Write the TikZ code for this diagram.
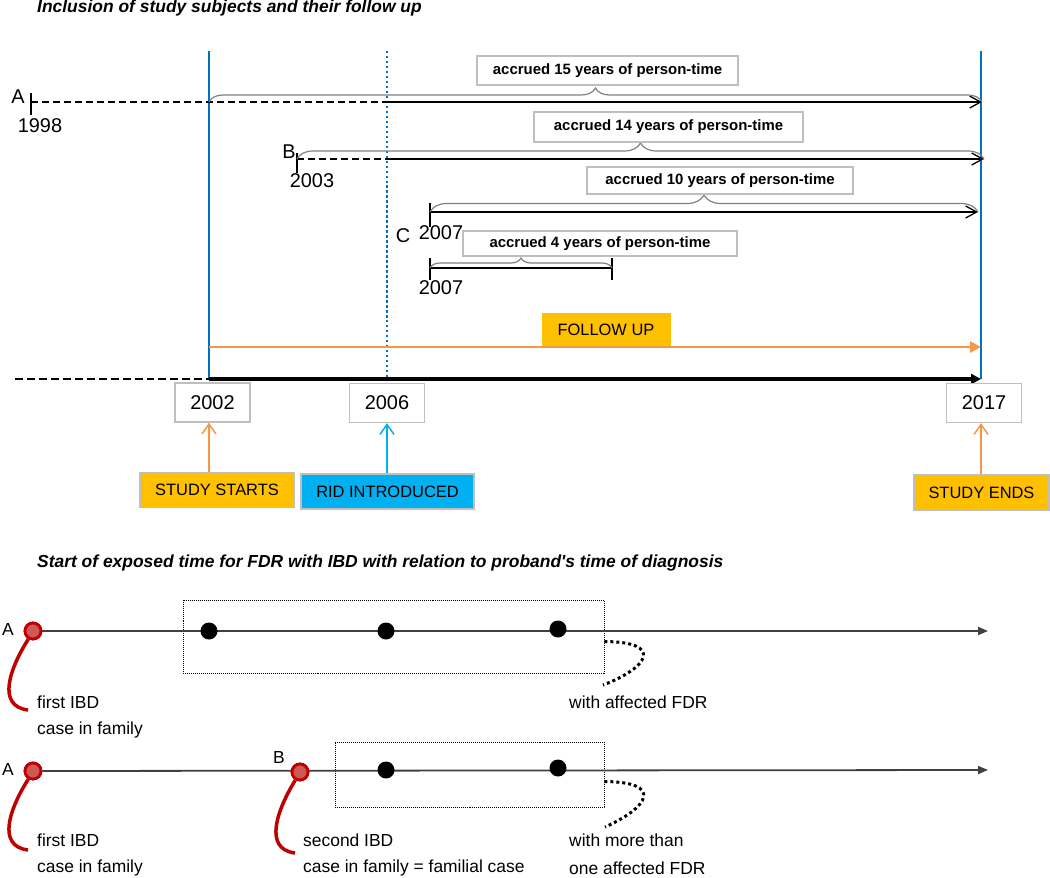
\documentclass[tikz,border=0pt]{standalone}
\usepackage{fontspec}
\setmainfont{Liberation Sans}[Ligatures=TeXOff]
\usepackage{tikz}
\usetikzlibrary{calc}
\usetikzlibrary{arrows.meta}
\usetikzlibrary{decorations.pathreplacing}
\usetikzlibrary{positioning}

\definecolor{studyblue}{HTML}{0070C0}
\definecolor{ridblue}{HTML}{00B0F0}
\definecolor{boxorange}{HTML}{FFC000}
\definecolor{arrorange}{HTML}{F79646}
\definecolor{boxgray}{HTML}{BFBFBF}
\definecolor{bracegray}{HTML}{808080}
\definecolor{probred}{HTML}{C00000}
\definecolor{probfill}{HTML}{CD5A57}
\definecolor{linegray}{HTML}{404040}

\begin{document}
\begin{tikzpicture}[x=1bp,y=-1bp]
				\tikzstyle{every node}=[font=\fontsize{20}{22}\selectfont, inner sep=0pt]
				\tikzstyle{titletext}=[anchor=west, font=\fontsize{17.5}{20}\selectfont\bfseries\itshape]
				\tikzstyle{smalltext}=[anchor=west, font=\fontsize{17.5}{20}\selectfont]
				\tikzstyle{yearbox}=[draw=boxgray, line width=1.3pt, fill=white, minimum width=75bp, minimum height=39bp]
				\tikzstyle{accruedbox}=[draw=boxgray, line width=1.3pt, fill=white, font=\fontsize{15}{17}\selectfont\bfseries]
				\tikzstyle{eventbox}=[draw=boxgray, line width=1.3pt, minimum height=35bp, font=\fontsize{16.5}{18}\selectfont]
				\tikzstyle{dashline}=[line width=2.4pt, dash pattern=on 7pt off 4pt]
				\tikzstyle{rowline}=[line width=1.5pt, -{Straight Barb[length=11pt,width=12pt,line width=1.3pt]}]
				\tikzstyle{personbrace}=[bracegray, line width=1.2pt, decorate, decoration={brace, aspect=0.5}]
				\tikzstyle{tick}=[line width=1.5pt]
				\tikzstyle{proband}=[circle, draw=probred, fill=probfill, line width=2.8pt, minimum size=16bp]
				\tikzstyle{fdr}=[circle, fill=black, minimum size=17bp]
				\tikzstyle{hook}=[probred, line width=3.5pt]
				\tikzstyle{window}=[draw, line width=0.8pt, dash pattern=on 1pt off 1pt]
				\tikzstyle{curl}=[line width=3pt, dash pattern=on 3pt off 3pt]
				\tikzstyle{famline}=[linegray, line width=1.8pt, -{Triangle[length=10pt,width=8pt]}]
				\tikzstyle{eventarrow}=[line width=1.8pt, -{Straight Barb[length=10pt,width=14pt,line width=1.5pt]}]
				
				\useasboundingbox (0,0) rectangle (1050,878);
				
				% part 1
				\node[titletext] (title1) at (37,8) {Inclusion of study subjects and their follow up};
				
				\coordinate (startTop) at (209,51);
				\coordinate (startBot) at (209,379);
				\coordinate (ridTop) at (387,51);
				\coordinate (ridBot) at (387,379);
				\coordinate (endTop) at (981,51);
				\coordinate (endBot) at (981,379);
				\draw[studyblue, line width=1.5pt] (startTop) -- (startBot);
				\draw[studyblue, line width=1.5pt] (endTop) -- (endBot);
				\draw[studyblue, line width=2.8pt, dash pattern=on 2.5pt off 2.5pt] (ridTop) -- (ridBot);
				
				% subject A
				\coordinate (aStart) at (31,102);
				\coordinate (aStudy) at (209,102);
				\coordinate (aRid) at (387,102);
				\coordinate (aEnd) at (982,102);
				\draw[tick] (31,93) -- (31,115);
				\node (labA) at (18,97) {A};
				\node (yrA) at (40,126) {1998};
				\draw[dashline] (aStart) -- (aRid);
				\draw[rowline] (aRid) -- (aEnd);
				\draw[personbrace, decoration={amplitude=14bp}] (aStudy) -- (aEnd);
				\node[accruedbox, minimum width=261bp, minimum height=29bp] (accA) at (607.5,70.5) {accrued 15 years of person-time};
				
				% subject B
				\coordinate (bStart) at (297,159);
				\coordinate (bRid) at (387,159);
				\coordinate (bEnd) at (984,159);
				\draw[tick] (297,153) -- (297,173);
				\node (labB) at (289,152) {B};
				\node (yrB) at (312,181) {2003};
				\draw[dashline] (bStart) -- (bRid);
				\draw[rowline] (bRid) -- (bEnd);
				\draw[personbrace, decoration={amplitude=16bp}] (bStart) -- (bEnd);
				\node[accruedbox, minimum width=269bp, minimum height=30bp] (accB) at (668.5,127) {accrued 14 years of person-time};
				
				% subject C
				\coordinate (cStart) at (430,212);
				\coordinate (cEnd) at (978,212);
				\draw[tick] (430,203) -- (430,227);
				\node (labC) at (403,236) {C};
				\node (yrC) at (441,233) {2007};
				\draw[rowline] (cStart) -- (cEnd);
				\draw[personbrace, decoration={amplitude=17bp}] (cStart) -- (cEnd);
				\node[accruedbox, minimum width=266bp, minimum height=27bp] (accC) at (720,180.5) {accrued 10 years of person-time};
				
				\coordinate (dStart) at (430,268);
				\coordinate (dEnd) at (612,268);
				\draw[tick] (430,258) -- (430,280);
				\draw[tick] (612,258) -- (612,280);
				\node (yrD) at (441,288) {2007};
				\draw[line width=1.5pt] (dStart) -- (dEnd);
				\draw[personbrace, decoration={amplitude=10bp}] (dStart) -- (dEnd);
				\node[accruedbox, minimum width=274bp, minimum height=25bp] (accD) at (600,243.5) {accrued 4 years of person-time};
				
				% follow up and time axis
				\coordinate (fuStart) at (209,347);
				\coordinate (fuEnd) at (981,347);
				\draw[arrorange, line width=3pt, -{Triangle[length=11pt,width=11pt]}] (fuStart) -- (fuEnd);
				\node[fill=boxorange, minimum width=129bp, minimum height=33bp, font=\fontsize{16.5}{18}\selectfont] (follow) at (606,329.5) {FOLLOW UP};
				
				\coordinate (axStart) at (15,379);
				\draw[line width=3pt, dash pattern=on 8pt off 4pt] (axStart) -- (startBot);
				\draw[line width=3.5pt, -{Triangle[length=10pt,width=10pt]}] (startBot) -- (endBot);
				
				\node[yearbox] (y2002) at (212.5,402.5) {2002};
				\node[yearbox] (y2006) at (387,403) {2006};
				\node[yearbox] (y2017) at (984,403) {2017};
				
				\node[eventbox, fill=boxorange, minimum width=154bp] (starts) at (217,490) {STUDY STARTS};
				\node[eventbox, fill=ridblue, minimum width=173bp] (rid) at (387.5,491.5) {RID INTRODUCED};
				\node[eventbox, fill=boxorange, minimum width=135bp] (ends) at (981.5,492.5) {STUDY ENDS};
				
				\draw[eventarrow, arrorange] (starts.north -| startBot) -- (y2002.south -| startBot);
				\draw[eventarrow, ridblue] (rid.north -| ridBot) -- (y2006.south -| ridBot);
				\draw[eventarrow, arrorange] (ends.north -| endBot) -- (y2017.south -| endBot);
				
				% part 2
				\node[titletext] (title2) at (37,563) {Start of exposed time for FDR with IBD with relation to proband's time of diagnosis};
				
				% family with one case
				\coordinate (f1End) at (988,631);
				\node[window, minimum width=421bp, minimum height=73bp] (win1) at (393.5,636.5) {};
				\node[proband] (pa1) at (33,631) {};
				\draw[famline] (pa1) -- (f1End);
				\node[proband] at (pa1) {};
				\node[fdr] (d11) at (209,631) {};
				\node[fdr] (d12) at (386,631) {};
				\node[fdr] (d13) at (558,629) {};
				\node[font=\fontsize{17.5}{20}\selectfont] (labA1) at (8,629) {A};
				\node[smalltext] (first1) at (37,702) {first IBD};
				\node[smalltext] (fam1) at (37,730) {case in family};
				\node[smalltext] (with1) at (569,702) {with affected FDR};
				\coordinate (hook1) at (28,710);
				\draw[hook] (pa1.240) .. controls (10,668) and (-4,706) .. (hook1);
				\coordinate (curl1) at (603,685);
				\draw[curl] ($(win1.east)+(0,5)$) .. controls (665,642) and (648,668) .. (curl1);
				
				% family with two cases
				\coordinate (f2End) at (988,770);
				\node[window, minimum width=269bp, minimum height=65bp] (win2) at (469.5,774.5) {};
				\node[proband] (pa2) at (33,771) {};
				\node[proband] (pb2) at (300,772) {};
				\draw[famline] (pa2) -- (f2End);
				\node[proband] at (pa2) {};
				\node[proband] at (pb2) {};
				\node[fdr] (d21) at (386,770) {};
				\node[fdr] (d22) at (558,768) {};
				\node[font=\fontsize{17.5}{20}\selectfont] (labA2) at (8,769) {A};
				\node[font=\fontsize{17.5}{20}\selectfont] (labB2) at (279,757) {B};
				\node[smalltext] (first2) at (37,840) {first IBD};
				\node[smalltext] (fam2) at (37,868) {case in family};
				\node[smalltext] (second2) at (303,840) {second IBD};
				\node[smalltext] (famcase2) at (303,868) {case in family = familial case};
				\node[smalltext] (more2) at (569,840) {with more than};
				\node[smalltext] (one2) at (569,868) {one affected FDR};
				\coordinate (hook2) at (28,850);
				\coordinate (hook3) at (295,853);
				\draw[hook] (pa2.240) .. controls (10,808) and (-4,846) .. (hook2);
				\draw[hook] (pb2.240) .. controls (277,810) and (263,849) .. (hook3);
				\coordinate (curl2) at (605,827);
				\draw[curl] ($(win2.east)+(0,7)$) .. controls (665,782) and (648,808) .. (curl2);
				
\end{tikzpicture}
\end{document}
